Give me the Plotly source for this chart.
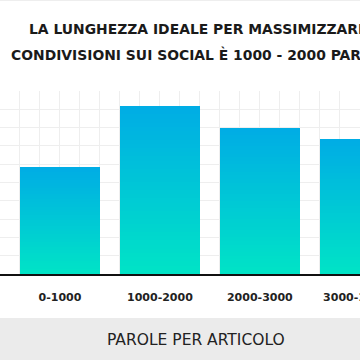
import plotly.graph_objects as go

categories = ["0-1000", "1000-2000", "2000-3000", "3000-10000"]
values = [5.85, 9.18, 7.98, 7.38]
title_lines = ["LA LUNGHEZZA IDEALE PER MASSIMIZZARE", "CONDIVISIONI SUI SOCIAL È 1000 - 2000 PAROLE"]
axis_title = "PAROLE PER ARTICOLO"

N = 40
top_rgb = (0, 172, 229)
bot_rgb = (0, 228, 198)

def mix(t):
    return "rgb(%d,%d,%d)" % tuple(round(b + (a - b) * t) for a, b in zip(top_rgb, bot_rgb))

xs = list(range(len(categories)))
fig = go.Figure()
for i in range(N):
    t = (i + 0.5) / N
    fig.add_trace(go.Bar(
        x=xs, y=[v / N for v in values], width=0.8,
        marker=dict(color=mix(t), line=dict(width=0)),
        hoverinfo="skip", showlegend=False,
    ))

W, H = 360, 360
mt, mb, ml, mr = 91, 86, 0, 0
ph = H - mt - mb

def py(pix):
    return 1 + (mt - pix) / ph

fig.update_layout(
    barmode="stack", width=W, height=H,
    margin=dict(l=ml, r=mr, t=mt, b=mb, pad=0, autoexpand=False),
    paper_bgcolor="white", plot_bgcolor="white",
    font=dict(family="DejaVu Sans", color="#222"),
    xaxis=dict(range=[-0.6, 3.002], tickvals=xs, ticktext=categories,
               showgrid=True, gridcolor="#EEEEEE", gridwidth=1,
               minor=dict(dtick=0.2, tick0=0, showgrid=True, gridcolor="#EEEEEE", gridwidth=1),
               showline=True, linecolor="#111111", linewidth=2, ticks="",
               tickfont=dict(family="DejaVu Sans", size=11, weight=700, color="#222"),
               ticklabelstandoff=12, ticklabeloverflow="allow", automargin=False,
               zeroline=False, fixedrange=True),
    yaxis=dict(range=[0, 10], dtick=1, showgrid=True, gridcolor="#EEEEEE", gridwidth=1,
               showticklabels=False, showline=True, linecolor="#444", linewidth=2,
               zeroline=False, ticks="", fixedrange=True, automargin=False),
    shapes=[
        dict(type="rect", xref="paper", yref="paper", x0=0, x1=1,
             y0=py(318), y1=py(H + 5),
             fillcolor="#EBEBEB", line=dict(width=0), layer="below"),
        dict(type="line", xref="paper", yref="paper", x0=0, x1=1,
             y0=py(0.5), y1=py(0.5),
             line=dict(color="#EEEEEE", width=1)),
    ],
    annotations=[
        dict(text=title_lines[0], xref="paper", yref="paper", x=27 / W, xanchor="left",
             y=py(29), yanchor="middle", showarrow=False,
             font=dict(size=13.9, weight=700, color="#1a1a1a")),
        dict(text=title_lines[1], xref="paper", yref="paper", x=9 / W, xanchor="left",
             y=py(54), yanchor="middle", showarrow=False,
             font=dict(size=13.9, weight=700, color="#1a1a1a")),
        dict(text=axis_title, xref="paper", yref="paper", x=196 / W, xanchor="center",
             y=py(340), yanchor="middle", showarrow=False,
             font=dict(size=15.5, weight=400, color="#222")),
    ],
)
fig.write_html("out.html", config={"displayModeBar": False},
               post_script="document.body.style.margin='0px';")
